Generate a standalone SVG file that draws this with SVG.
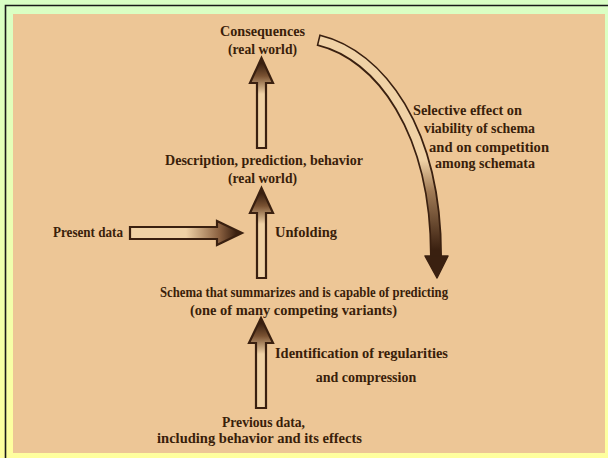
<svg xmlns="http://www.w3.org/2000/svg" width="608" height="458" viewBox="0 0 608 458">
<defs>
<linearGradient id="bg" x1="0" y1="0" x2="0" y2="1">
<stop offset="0" stop-color="#d9ffc4"/>
<stop offset="1" stop-color="#ffff9e"/>
</linearGradient>
<linearGradient id="headV" x1="0" y1="0" x2="0" y2="1">
<stop offset="0.06" stop-color="#3a2010"/>
<stop offset="0.2" stop-color="#7a5232"/>
<stop offset="0.4" stop-color="#f0d2a6"/>
</linearGradient>
<linearGradient id="headH" x1="0" y1="0" x2="1" y2="0">
<stop offset="0.5" stop-color="#f0d2a6"/>
<stop offset="0.8" stop-color="#8a6040"/>
<stop offset="0.95" stop-color="#3a2010"/>
</linearGradient>
<linearGradient id="curveFill" gradientUnits="userSpaceOnUse" x1="0" y1="160" x2="0" y2="250">
<stop offset="0" stop-color="#f0d2a6"/>
<stop offset="0.35" stop-color="#a07a55"/>
<stop offset="1" stop-color="#3a2010"/>
</linearGradient>
<style>
.lbl{font-family:"Liberation Serif","DejaVu Serif",serif;font-weight:bold;font-size:14px;fill:#3a1e0a}
.arr{stroke:#3a2010;stroke-width:2.2;stroke-linejoin:miter}
</style>
</defs>
<rect x="0" y="0" width="608" height="458" fill="url(#bg)"/>
<path d="M5.5,458 V5.5 H608" fill="none" stroke="#1a1a1a" stroke-width="1.6"/>
<rect x="13" y="14" width="592" height="439" fill="#edc696"/>

<g id="connectors">
<path class="arr" d="M261.5,58 L273,83 L266,83 L266,148 L257,148 L257,83 L250,83 Z" fill="url(#headV)"/>
<path class="arr" d="M261.5,188 L273,213 L266,213 L266,278 L257,278 L257,213 L250,213 Z" fill="url(#headV)"/>
<path class="arr" d="M261,318 L273,343 L266,343 L266,408 L256,408 L256,343 L249,343 Z" fill="url(#headV)"/>
<path class="arr" d="M130,227 L217,227 L217,221 L242,233 L217,245 L217,239 L130,239 Z" fill="url(#headH)"/>
<path d="M318,40 C380,55 436,130 436,256" fill="none" stroke="#3a2010" stroke-width="12"/>
<path d="M319.5,40.3 C380,55 436,130 436,257" fill="none" stroke="url(#curveFill)" stroke-width="8.5"/>
<path d="M425,256 L448,256 L437,278 Z" fill="#3a2010" stroke="#3a2010" stroke-width="1.5" stroke-linejoin="round"/>
</g>

<g id="consequences">
<text class="lbl" x="220" y="36" textLength="85" lengthAdjust="spacingAndGlyphs">Consequences</text>
<text class="lbl" x="228" y="54" textLength="69" lengthAdjust="spacingAndGlyphs">(real world)</text>
</g>
<g id="description">
<text class="lbl" x="165" y="165" textLength="198" lengthAdjust="spacingAndGlyphs">Description, prediction, behavior</text>
<text class="lbl" x="228" y="183" textLength="69" lengthAdjust="spacingAndGlyphs">(real world)</text>
</g>
<g id="present-data">
<text class="lbl" x="53" y="237" textLength="70" lengthAdjust="spacingAndGlyphs">Present data</text>
</g>
<g id="unfolding">
<text class="lbl" x="275" y="237" textLength="62" lengthAdjust="spacingAndGlyphs">Unfolding</text>
</g>
<g id="schema">
<text class="lbl" x="160" y="297" textLength="288" lengthAdjust="spacingAndGlyphs">Schema that summarizes and is capable of predicting</text>
<text class="lbl" x="190" y="315" textLength="207" lengthAdjust="spacingAndGlyphs">(one of many competing variants)</text>
</g>
<g id="identification">
<text class="lbl" x="275" y="358" textLength="173" lengthAdjust="spacingAndGlyphs">Identification of regularities</text>
<text class="lbl" x="366" y="382" text-anchor="middle">and compression</text>
</g>
<g id="previous-data">
<text class="lbl" x="222" y="427" textLength="83" lengthAdjust="spacingAndGlyphs">Previous data,</text>
<text class="lbl" x="157" y="443" textLength="205" lengthAdjust="spacingAndGlyphs">including behavior and its effects</text>
</g>
<g id="selective">
<text class="lbl" x="413" y="115" textLength="109" lengthAdjust="spacingAndGlyphs">Selective effect on</text>
<text class="lbl" x="424" y="133" textLength="111" lengthAdjust="spacingAndGlyphs">viability of schema</text>
<text class="lbl" x="429" y="152" textLength="120" lengthAdjust="spacingAndGlyphs">and on competition</text>
<text class="lbl" x="435" y="168" textLength="100" lengthAdjust="spacingAndGlyphs">among schemata</text>
</g>
</svg>
